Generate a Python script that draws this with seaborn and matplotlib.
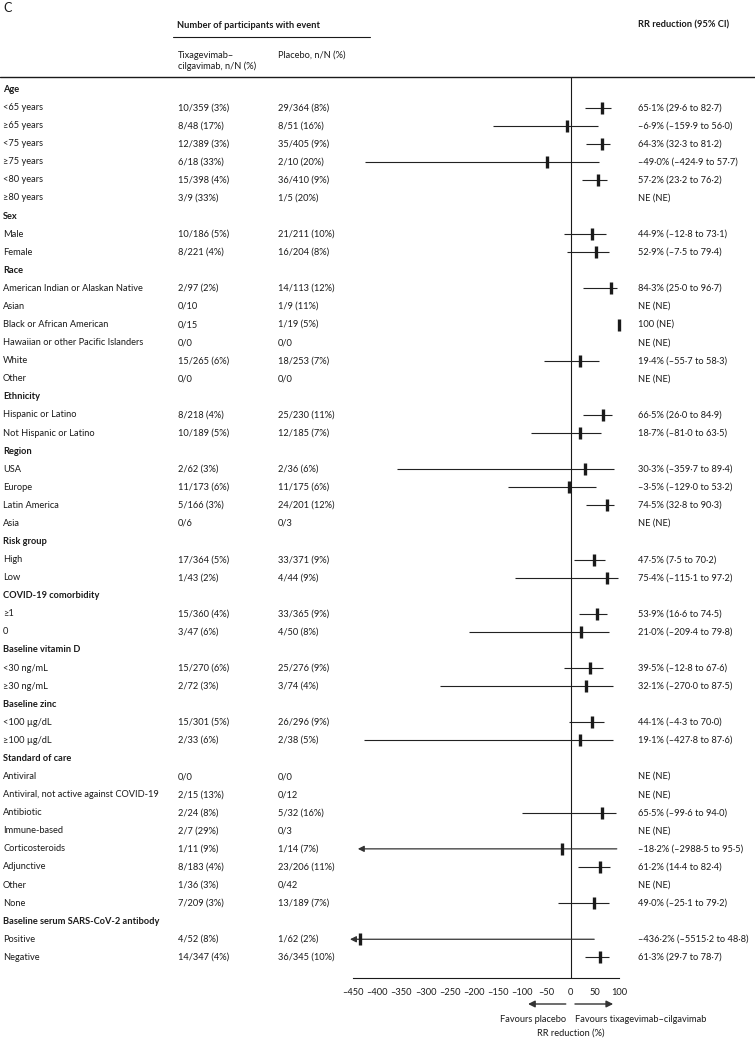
# plot.py
# Forest plot of relative risk reduction by subgroup (panel C).
# Output: out.png (755x1039 px)

import numpy as np
import pandas as pd
import matplotlib
matplotlib.use('Agg')
import matplotlib.pyplot as plt
import matplotlib.transforms as mtransforms
import seaborn as sns

W, H = 755, 1039

labels = [
    'Age', '<65 years', '≥65 years', '<75 years', '≥75 years', '<80 years', '≥80 years',
    'Sex', 'Male', 'Female',
    'Race', 'American Indian or Alaskan Native', 'Asian', 'Black or African American',
    'Hawaiian or other Pacific Islanders', 'White', 'Other',
    'Ethnicity', 'Hispanic or Latino', 'Not Hispanic or Latino',
    'Region', 'USA', 'Europe', 'Latin America', 'Asia',
    'Risk group', 'High', 'Low',
    'COVID-19 comorbidity', '≥1', '0',
    'Baseline vitamin D', '<30 ng/mL', '≥30 ng/mL',
    'Baseline zinc', '<100 µg/dL', '≥100 µg/dL',
    'Standard of care', 'Antiviral', 'Antiviral, not active against COVID-19', 'Antibiotic',
    'Immune-based', 'Corticosteroids', 'Adjunctive', 'Other', 'None',
    'Baseline serum SARS-CoV-2 antibody', 'Positive', 'Negative',
]

group_headers = ['Age', 'Sex', 'Race', 'Ethnicity', 'Region', 'Risk group',
                 'COVID-19 comorbidity', 'Baseline vitamin D', 'Baseline zinc',
                 'Standard of care', 'Baseline serum SARS-CoV-2 antibody']

tixa = [
    '', '10/359 (3%)', '8/48 (17%)', '12/389 (3%)', '6/18 (33%)', '15/398 (4%)', '3/9 (33%)',
    '', '10/186 (5%)', '8/221 (4%)',
    '', '2/97 (2%)', '0/10', '0/15', '0/0', '15/265 (6%)', '0/0',
    '', '8/218 (4%)', '10/189 (5%)',
    '', '2/62 (3%)', '11/173 (6%)', '5/166 (3%)', '0/6',
    '', '17/364 (5%)', '1/43 (2%)',
    '', '15/360 (4%)', '3/47 (6%)',
    '', '15/270 (6%)', '2/72 (3%)',
    '', '15/301 (5%)', '2/33 (6%)',
    '', '0/0', '2/15 (13%)', '2/24 (8%)', '2/7 (29%)', '1/11 (9%)', '8/183 (4%)', '1/36 (3%)', '7/209 (3%)',
    '', '4/52 (8%)', '14/347 (4%)',
]

placebo = [
    '', '29/364 (8%)', '8/51 (16%)', '35/405 (9%)', '2/10 (20%)', '36/410 (9%)', '1/5 (20%)',
    '', '21/211 (10%)', '16/204 (8%)',
    '', '14/113 (12%)', '1/9 (11%)', '1/19 (5%)', '0/0', '18/253 (7%)', '0/0',
    '', '25/230 (11%)', '12/185 (7%)',
    '', '2/36 (6%)', '11/175 (6%)', '24/201 (12%)', '0/3',
    '', '33/371 (9%)', '4/44 (9%)',
    '', '33/365 (9%)', '4/50 (8%)',
    '', '25/276 (9%)', '3/74 (4%)',
    '', '26/296 (9%)', '2/38 (5%)',
    '', '0/0', '0/12', '5/32 (16%)', '0/3', '1/14 (7%)', '23/206 (11%)', '0/42', '13/189 (7%)',
    '', '1/62 (2%)', '36/345 (10%)',
]

nan = np.nan
rr_est = [
    nan, 65.1, -6.9, 64.3, -49.0, 57.2, nan,
    nan, 44.9, 52.9,
    nan, 84.3, nan, 100, nan, 19.4, nan,
    nan, 66.5, 18.7,
    nan, 30.3, -3.5, 74.5, nan,
    nan, 47.5, 75.4,
    nan, 53.9, 21.0,
    nan, 39.5, 32.1,
    nan, 44.1, 19.1,
    nan, nan, nan, 65.5, nan, -18.2, 61.2, nan, 49.0,
    nan, -436.2, 61.3,
]
rr_lo = [
    nan, 29.6, -159.9, 32.3, -424.9, 23.2, nan,
    nan, -12.8, -7.5,
    nan, 25.0, nan, nan, nan, -55.7, nan,
    nan, 26.0, -81.0,
    nan, -359.7, -129.0, 32.8, nan,
    nan, 7.5, -115.1,
    nan, 16.6, -209.4,
    nan, -12.8, -270.0,
    nan, -4.3, -427.8,
    nan, nan, nan, -99.6, nan, -2988.5, 14.4, nan, -25.1,
    nan, -5515.2, 29.7,
]
rr_hi = [
    nan, 82.7, 56.0, 81.2, 57.7, 76.2, nan,
    nan, 73.1, 79.4,
    nan, 96.7, nan, nan, nan, 58.3, nan,
    nan, 84.9, 63.5,
    nan, 89.4, 53.2, 90.3, nan,
    nan, 70.2, 97.2,
    nan, 74.5, 79.8,
    nan, 67.6, 87.5,
    nan, 70.0, 87.6,
    nan, nan, nan, 94.0, nan, 95.5, 82.4, nan, 79.2,
    nan, 48.8, 78.7,
]

ticks = list(range(-450, 101, 50))


def lancet(v):
    s = '100' if v == 100 else f'{v:.1f}'
    return s.replace('-', '–').replace('.', '·')


def rr_text(est, lo, hi, header):
    if header:
        return ''
    if np.isnan(est):
        return 'NE (NE)'
    if np.isnan(lo):
        return f'{lancet(est)} (NE)'
    return f'{lancet(est)}% ({lancet(lo)} to {lancet(hi)})'


df = pd.DataFrame({'label': labels, 'tixa': tixa, 'placebo': placebo,
                   'est': rr_est, 'lo': rr_lo, 'hi': rr_hi})
df['row'] = np.arange(len(df))
df['header'] = df['label'].isin(group_headers) & (df['tixa'] == '')

sns.set_style('white')
plt.rcParams['font.family'] = ['Lato', 'DejaVu Sans']
FS = 6.7
INK = '#1a1a1a'

fig = plt.figure(figsize=(W / 100, H / 100), dpi=100)

# forest axes: x data -> pixels (0 at 570.6 px, 0.4836 px per unit)
x0_px, ppu = 570.6, 0.4836
xlim = (-470, 112)
row0_px, row_step = 89.5, 18.08
top_px, bottom_px = 77, 978
ylim = ((bottom_px - row0_px) / row_step, (top_px - row0_px) / row_step)
left_px = x0_px + xlim[0] * ppu
right_px = x0_px + xlim[1] * ppu
ax = fig.add_axes([left_px / W, 1 - bottom_px / H, (right_px - left_px) / W, (bottom_px - top_px) / H])

# confidence intervals
ci = df.dropna(subset=['lo'])
for _, r in ci.iterrows():
    if r['lo'] < -450:
        tip = min(-440, r['est'] - 20)
        ax.annotate('', xy=(tip, r['row']), xytext=(r['hi'], r['row']),
                    arrowprops=dict(arrowstyle='-|>', color='#333333', lw=0.9,
                                    mutation_scale=9, shrinkA=0, shrinkB=0))
    else:
        ax.hlines(r['row'], r['lo'], r['hi'], color='#222222', lw=0.8)

# point estimates
pts = df.dropna(subset=['est'])
sns.scatterplot(data=pts, x='est', y='row', marker='|', s=80, linewidth=2.4,
                color=INK, ax=ax, zorder=3)

ax.axvline(0, color=INK, lw=0.8)
ax.set_xlim(*xlim)
ax.set_ylim(*ylim)
ax.set_xlabel('')
ax.set_ylabel('')
ax.set_yticks([])
ax.set_xticks(ticks)
ax.set_xticklabels([str(t).replace('-', '–') for t in ticks], fontsize=FS)
ax.tick_params(axis='x', direction='out', length=5, width=0.8, pad=2, colors=INK)
for side in ['top', 'left', 'right']:
    ax.spines[side].set_visible(False)
ax.spines['bottom'].set_bounds(-450, 100)
ax.spines['bottom'].set_linewidth(0.8)
ax.spines['bottom'].set_color(INK)
ax.patch.set_alpha(0)

# table text
trans = mtransforms.blended_transform_factory(fig.transFigure, ax.transData)
for _, r in df.iterrows():
    y = r['row']
    weight = 'bold' if r['header'] else 'normal'
    ax.text(3 / W, y, r['label'], transform=trans, fontsize=FS, va='center',
            fontweight=weight, color=INK)
    ax.text(178 / W, y, r['tixa'], transform=trans, fontsize=FS, va='center', color=INK)
    ax.text(278 / W, y, r['placebo'], transform=trans, fontsize=FS, va='center', color=INK)
    ax.text(638 / W, y, rr_text(r['est'], r['lo'], r['hi'], r['header']),
            transform=trans, fontsize=FS, va='center', color=INK)

# header
def fy(p):
    return 1 - p / H

fig.text(3 / W, fy(8), 'C', fontsize=9, va='center', color=INK)
fig.text(177 / W, fy(26), 'Number of participants with event', fontsize=FS,
         fontweight='bold', va='center', color=INK)
fig.add_artist(plt.Line2D([173 / W, 370 / W], [fy(37), fy(37)], color=INK, lw=0.8))
fig.text(178 / W, fy(55), 'Tixagevimab–', fontsize=FS, va='center', color=INK)
fig.text(178 / W, fy(66), 'cilgavimab, n/N (%)', fontsize=FS, va='center', color=INK)
fig.text(278 / W, fy(55), 'Placebo, n/N (%)', fontsize=FS, va='center', color=INK)
fig.text(638 / W, fy(25), 'RR reduction (95% CI)', fontsize=FS, fontweight='bold',
         va='center', color=INK)
fig.add_artist(plt.Line2D([0, 1], [fy(77), fy(77)], color=INK, lw=1.0))

# favours arrows
btrans = mtransforms.blended_transform_factory(ax.transData, fig.transFigure)
arrow_kw = dict(arrowstyle='-|>', color='#333333', lw=1.0, mutation_scale=10,
                shrinkA=0, shrinkB=0)
ax.annotate('', xy=(-88, fy(1004)), xytext=(-10, fy(1004)), xycoords=btrans,
            textcoords=btrans, arrowprops=arrow_kw, annotation_clip=False)
ax.annotate('', xy=(88, fy(1004)), xytext=(9, fy(1004)), xycoords=btrans,
            textcoords=btrans, arrowprops=arrow_kw, annotation_clip=False)
ax.text(-10, fy(1020), 'Favours placebo', transform=btrans, fontsize=FS,
        ha='right', va='center', color=INK)
ax.text(9, fy(1020), 'Favours tixagevimab–cilgavimab', transform=btrans, fontsize=FS,
        ha='left', va='center', color=INK)
ax.text(0, fy(1033), 'RR reduction (%)', transform=btrans, fontsize=FS,
        ha='center', va='center', color=INK)

fig.savefig('out.png', dpi=100)
print('Saved: out.png')
